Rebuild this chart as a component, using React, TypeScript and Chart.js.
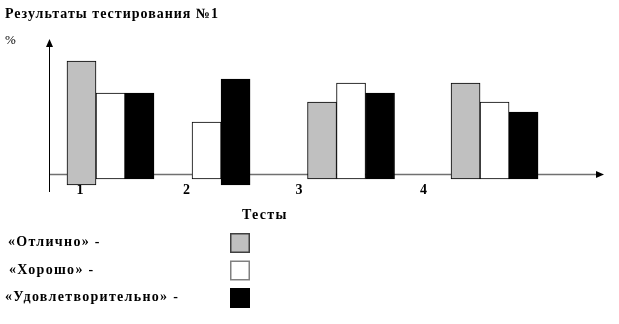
import React, { useEffect, useRef } from 'react';
import { Chart, registerables } from 'chart.js';

Chart.register(...registerables);

// ---- Data ----
const chartTitle = 'Результаты тестирования №1';
const yUnitLabel = '%';
const xAxisTitle = 'Тесты';
const categories = ['1', '2', '3', '4'];
// positions on the (linear) test axis
const categoryLabelPos = [0.279, 1.239, 2.252, 3.374];
const groupPos = [0.554, 1.55, 2.721, 4.014];
const seriesNames = ['«Отлично» -', '«Хорошо» -', '«Удовлетворительно» -'];
// floating bars [start, end]; null = no bar
const excellent: ([number, number] | null)[] = [[-6, 118], null, [0, 77], [0, 96]];
const good: ([number, number] | null)[] = [[0, 86], [0, 57], [0, 96], [0, 77]];
const satisfactory: ([number, number] | null)[] = [[0, 86], [-6, 100], [0, 86], [0, 67]];

// ---- Styles ----
const FONT = '"Liberation Serif", "Times New Roman", serif';
const colors = ['#c0c0c0', '#ffffff', '#000000'];
const legendBorders = ['#404040', '#808080', '#000000'];
const legendTextX = [8, 9, 5];

const toPoints = (arr: ([number, number] | null)[]) =>
  arr
    .map((v, i) => (v ? { x: groupPos[i], y: v } : null))
    .filter((p) => p !== null);

const setSpacing = (ctx: any, v: string) => {
  if ('letterSpacing' in ctx) ctx.letterSpacing = v;
};

const decorPlugin = {
  id: 'decor',
  beforeDatasetsDraw(chart: any) {
    const { ctx, chartArea, scales } = chart;
    const xs = scales.x;
    const ys = scales.y;
    const zeroPx = ys.getPixelForValue(0);
    const axisY = Math.round(zeroPx - 5) + 0.5;
    ctx.save();
    // x axis line (grey)
    ctx.strokeStyle = '#707070';
    ctx.lineWidth = 1.5;
    ctx.beginPath();
    ctx.moveTo(chartArea.left, axisY);
    ctx.lineTo(chartArea.right - 6, axisY);
    ctx.stroke();
    // y axis line
    const ax = chartArea.left + 0.5;
    ctx.strokeStyle = '#000';
    ctx.lineWidth = 1;
    ctx.beginPath();
    ctx.moveTo(ax, chartArea.bottom);
    ctx.lineTo(ax, chartArea.top + 5);
    ctx.stroke();
    // y arrow head
    ctx.fillStyle = '#000';
    ctx.beginPath();
    ctx.moveTo(ax, chartArea.top - 1);
    ctx.lineTo(ax - 3.5, chartArea.top + 7);
    ctx.lineTo(ax + 3.5, chartArea.top + 7);
    ctx.closePath();
    ctx.fill();
    // x arrow head
    ctx.beginPath();
    ctx.moveTo(chartArea.right, axisY);
    ctx.lineTo(chartArea.right - 8, axisY - 3.5);
    ctx.lineTo(chartArea.right - 8, axisY + 3.5);
    ctx.closePath();
    ctx.fill();
    // category labels
    ctx.font = `bold 14px ${FONT}`;
    ctx.textAlign = 'center';
    ctx.textBaseline = 'alphabetic';
    categories.forEach((c, i) => {
      ctx.fillText(c, xs.getPixelForValue(categoryLabelPos[i]), zeroPx + 15);
    });
    ctx.restore();
  },
  afterDraw(chart: any) {
    const { ctx } = chart;
    ctx.save();
    ctx.fillStyle = '#000';
    ctx.textBaseline = 'alphabetic';
    ctx.textAlign = 'left';
    ctx.font = `bold 14px ${FONT}`;
    setSpacing(ctx, '1px');
    ctx.fillText(chartTitle, 5, 18);
    setSpacing(ctx, '0px');
    ctx.font = `13px ${FONT}`;
    ctx.fillText(yUnitLabel, 5, 44);
    ctx.font = `bold 14px ${FONT}`;
    setSpacing(ctx, '1.3px');
    ctx.fillText(xAxisTitle, 242, 219);
    // legend
    ctx.textBaseline = 'middle';
    chart.data.datasets.forEach((ds: any, i: number) => {
      const boxTop = 233 + i * 27.5;
      ctx.fillStyle = '#000';
      ctx.fillText(seriesNames[i], legendTextX[i], boxTop + 9.5);
      ctx.fillStyle = ds.backgroundColor;
      ctx.fillRect(230, boxTop, 20, 20);
      ctx.strokeStyle = legendBorders[i];
      ctx.lineWidth = 1.5;
      ctx.strokeRect(230.75, boxTop + 0.75, 18.5, 18.5);
    });
    ctx.restore();
  },
};

export default function App() {
  const ref = useRef<HTMLCanvasElement | null>(null);
  useEffect(() => {
    document.body.style.margin = '0';
    const canvas = ref.current;
    if (!canvas) return;
    const series = [excellent, good, satisfactory];
    const chart = new Chart(canvas, {
      type: 'bar',
      data: {
        datasets: series.map((s, i) => ({
          label: seriesNames[i],
          data: toPoints(s) as any,
          backgroundColor: colors[i],
          borderColor: '#000',
          borderWidth: 1,
          borderSkipped: false,
          barThickness: 29,
          skipNull: true,
        })),
      },
      options: {
        animation: false,
        responsive: false,
        devicePixelRatio: 1,
        layout: { padding: { left: 49, right: 15, top: 40, bottom: 132 } },
        scales: {
          x: { type: 'linear', min: 0, max: 5, display: false, offset: false },
          y: { type: 'linear', min: -13, max: 139, display: false },
        },
        plugins: {
          legend: { display: false },
          title: { display: false },
          tooltip: { enabled: false },
        },
      },
      plugins: [decorPlugin],
    });
    return () => chart.destroy();
  }, []);
  return (
    <div style={{ position: 'absolute', left: 0, top: 0, width: 619, height: 324, background: '#fff' }}>
      <canvas ref={ref} width={619} height={324} style={{ width: 619, height: 324 }} />
    </div>
  );
}
